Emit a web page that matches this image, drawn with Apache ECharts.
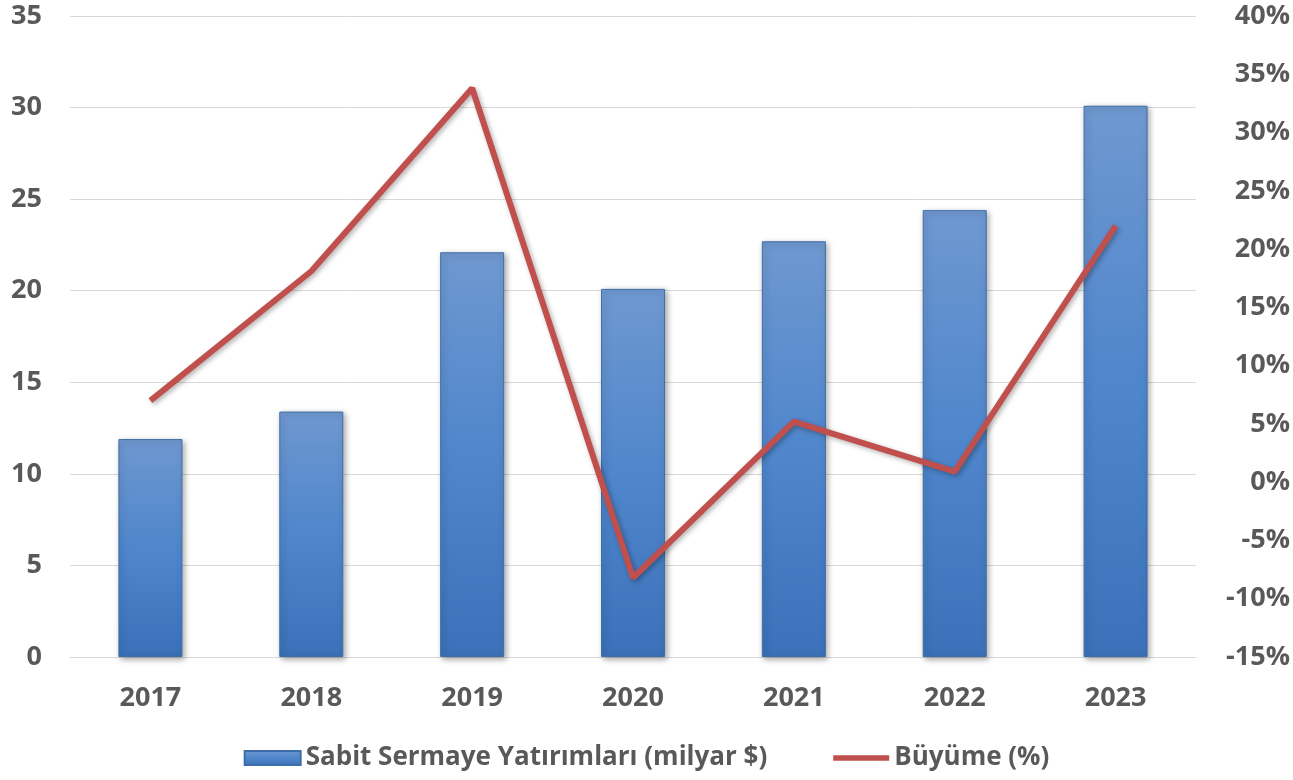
<!DOCTYPE html>
<html>
<head>
<meta charset="utf-8">
<script src="https://cdn.jsdelivr.net/npm/echarts@6/dist/echarts.min.js"></script>
<style>
html, body { margin: 0; padding: 0; background: #fff; }
#chart { width: 1293px; height: 780px; }
</style>
</head>
<body>
<div id="chart"></div>
<script>
let years = ['2017', '2018', '2019', '2020', '2021', '2022', '2023']
let yatirim = [11.9, 13.4, 22.1, 20.1, 22.7, 24.4, 30.1]
let buyume = [7.0, 18.1, 33.8, -8.2, 5.2, 0.9, 22.0]

let textColor = '#595959'
let fontFam = '"Open Sans", "DejaVu Sans", sans-serif'

let barColor = new echarts.graphic.LinearGradient(0, 0, 0, 1, [
    { offset: 0, color: '#6f98d0' },
    { offset: 0.5, color: '#4f86cc' },
    { offset: 1, color: '#3b71b8' }
])

let option = {
    animation: false,
    textStyle: { fontFamily: fontFam },
    grid: {
        left: 70,
        right: 97,
        top: 16,
        bottom: 123
    },
    legend: {
        bottom: 4,
        left: 'center',
        itemGap: 66,
        itemWidth: 56,
        itemHeight: 14,
        itemTextGap: 4,
        textStyle: {
            color: textColor,
            fontSize: 26,
            fontWeight: 'bold',
            fontFamily: fontFam
        },
        data: [
            { name: 'Sabit Sermaye Yatırımları (milyar $)', icon: 'rect' },
            { name: 'Büyüme (%)', icon: 'path://M0,0 L60,0 L60,6 L0,6 Z' }
        ]
    },
    xAxis: {
        type: 'category',
        data: years,
        axisLine: { lineStyle: { color: '#d9d9d9', width: 1 } },
        axisTick: { show: false },
        axisLabel: {
            color: textColor,
            fontSize: 27,
            fontWeight: 'bold',
            margin: 28
        }
    },
    yAxis: [
        {
            type: 'value',
            min: 0,
            max: 35,
            interval: 5,
            axisLine: { show: false },
            axisTick: { show: false },
            splitLine: { lineStyle: { color: '#d9d9d9', width: 1 } },
            axisLabel: {
                color: textColor,
                fontSize: 27,
                fontWeight: 'bold',
                margin: 28
            }
        },
        {
            type: 'value',
            min: -15,
            max: 40,
            interval: 5,
            axisLine: { show: false },
            axisTick: { show: false },
            splitLine: { show: false },
            axisLabel: {
                color: textColor,
                fontSize: 27,
                fontWeight: 'bold',
                align: 'right',
                margin: 94,
                formatter: '{value}%'
            }
        }
    ],
    series: [
        {
            name: 'Sabit Sermaye Yatırımları (milyar $)',
            type: 'bar',
            data: yatirim,
            barWidth: 64,
            itemStyle: {
                color: barColor,
                borderColor: '#3e6ea8',
                borderWidth: 1,
                shadowColor: 'rgba(0,0,0,0.35)',
                shadowBlur: 6,
                shadowOffsetX: 2,
                shadowOffsetY: 2
            }
        },
        {
            name: 'Büyüme (%)',
            type: 'line',
            yAxisIndex: 1,
            data: buyume,
            symbol: 'none',
            lineStyle: {
                color: '#c0504d',
                width: 6,
                shadowColor: 'rgba(0,0,0,0.3)',
                shadowBlur: 5,
                shadowOffsetX: 2,
                shadowOffsetY: 2
            },
            itemStyle: { color: '#c0504d' }
        }
    ]
}

var myChart = echarts.init(document.getElementById('chart'))
myChart.setOption(option)
window.addEventListener('resize', function() {
    myChart.resize()
})
</script>
</body>
</html>
